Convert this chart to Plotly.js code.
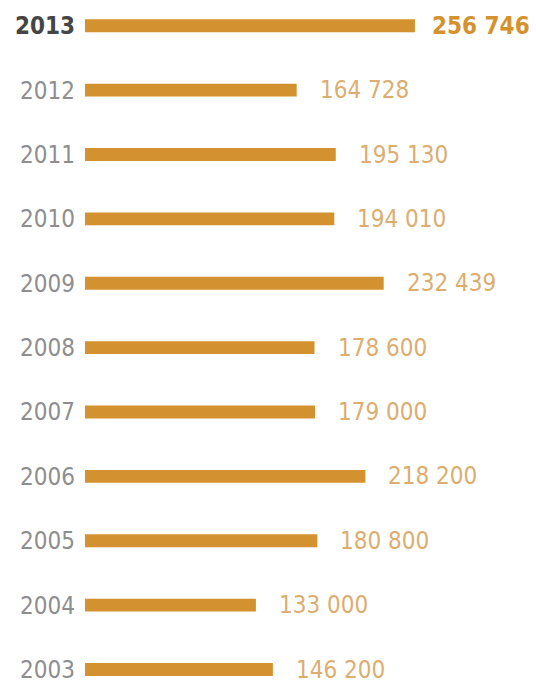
<!DOCTYPE html>
<html><head><meta charset="utf-8">
<script src="https://cdn.plot.ly/plotly-3.0.1.min.js"></script>
<style>html,body{margin:0;padding:0;background:#fff;}#chart{width:536px;height:685px;}</style>
</head><body><div id="chart"></div>
<script>
const years = ['2003','2004','2005','2006','2007','2008','2009','2010','2011','2012','2013'];
const values = [146200,133000,180800,218200,179000,178600,232439,194010,195130,164728,256746];
const valueLabels = ['146 200','133 000','180 800','218 200','179 000','178 600','232 439','194 010','195 130','164 728','256 746'];
const highlightYear = '2013';

const FONT = 'DejaVu Sans Condensed, DejaVu Sans, sans-serif';
const tickText = years.map(y => y === highlightYear ? '<b><span style="color:#454545">' + y + '</span></b>' : y);

const annotations = years.map((y, i) => ({
  x: values[i], y: i, xref: 'x', yref: 'y',
  text: y === highlightYear ? '<b>' + valueLabels[i] + '</b>' : valueLabels[i],
  showarrow: false, xanchor: 'left', yanchor: 'middle', xshift: y === highlightYear ? 15 : 21,
  font: {family: FONT, size: 24, color: y === highlightYear ? '#D4922F' : '#DCAD70'}
}));

Plotly.newPlot('chart', [{
  type: 'bar', orientation: 'h', x: values, y: years,
  width: 0.2, marker: {color: '#D4912F'}, hoverinfo: 'none'
}], {
  width: 536, height: 685,
  margin: {l: 85, r: 0, t: 0, b: 0},
  paper_bgcolor: '#fff', plot_bgcolor: '#fff',
  showlegend: false,
  xaxis: {range: [0, 350960], visible: false, fixedrange: true},
  yaxis: {type: 'category', categoryorder: 'array', categoryarray: years,
    range: [-0.24, 10.4], tickmode: 'array', tickvals: years, ticktext: tickText,
    showgrid: false, zeroline: false, showline: false, ticks: '',
    ticklabelstandoff: 9,
    tickfont: {family: FONT, size: 24, color: '#8E8E8E'}, fixedrange: true},
  annotations: annotations
}, {staticPlot: true});
</script></body></html>
